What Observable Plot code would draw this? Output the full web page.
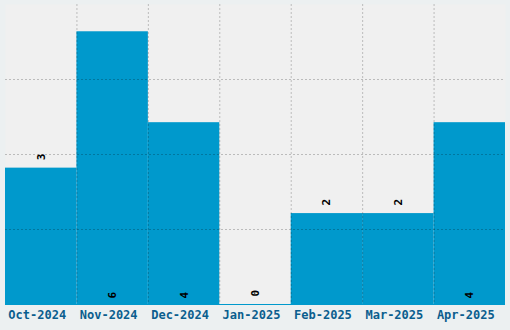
<!DOCTYPE html>
<html>
<head>
<meta charset="utf-8">
<script src="https://cdn.jsdelivr.net/npm/d3@7"></script>
<script src="https://cdn.jsdelivr.net/npm/@observablehq/plot@0.6"></script>
<style>
  html, body { margin: 0; padding: 0; background: #ecf0f1; }
  #chart { width: 510px; height: 330px; }
</style>
</head>
<body>
<div id="chart"></div>
<script>
const months = ["Oct-2024", "Nov-2024", "Dec-2024", "Jan-2025", "Feb-2025", "Mar-2025", "Apr-2025"];
const counts = [3, 6, 4, 0, 2, 2, 4];
const yMax = 6.6;
const yGrid = [1.65, 3.3, 4.95];

const barColor = "#0099cc";
const labelColor = "#0b5e8e";
const font = "'DejaVu Sans Mono', monospace";

const data = months.map((m, i) => ({month: m, count: counts[i], i}));
const inside = data.filter(d => d.count >= 4);
const above = data.filter(d => d.count < 4);
const boundaries = d3.range(1, months.length);

const chart = Plot.plot({
  width: 510,
  height: 330,
  marginLeft: 5,
  marginRight: 5,
  marginTop: 4,
  marginBottom: 26,
  style: {background: "#ecf0f1", fontFamily: font},
  x: {domain: [0, months.length], axis: null},
  y: {domain: [0, yMax], axis: null},
  marks: [
    Plot.frame({fill: "#f0f0f0", stroke: null}),
    Plot.rectY(data, {x1: "i", x2: d => d.i + 1, y: "count", fill: barColor}),
    Plot.ruleY([0], {stroke: barColor}),
    Plot.ruleY(yGrid, {stroke: "#000", strokeOpacity: 0.22, strokeDasharray: "2,2"}),
    Plot.ruleX(boundaries, {stroke: "#000", strokeOpacity: 0.22, strokeDasharray: "2,2"}),
    Plot.text(inside, {x: d => d.i + 0.5, y: 0, text: d => String(d.count), rotate: -90, textAnchor: "start", lineAnchor: "middle", dy: -6, fill: "#000", fontWeight: "bold", fontSize: 11, fontFamily: font}),
    Plot.text(above, {x: d => d.i + 0.5, y: "count", text: d => String(d.count), rotate: -90, textAnchor: "start", lineAnchor: "middle", dy: -8, fill: "#000", fontWeight: "bold", fontSize: 11, fontFamily: font}),
    Plot.text(data, {x: d => d.i + 0.5, y: 0, text: "month", dx: -4, dy: 11, lineAnchor: "middle", fill: labelColor, fontWeight: "bold", fontSize: 12, fontFamily: font})
  ]
});
document.getElementById("chart").appendChild(chart);
</script>
</body>
</html>
